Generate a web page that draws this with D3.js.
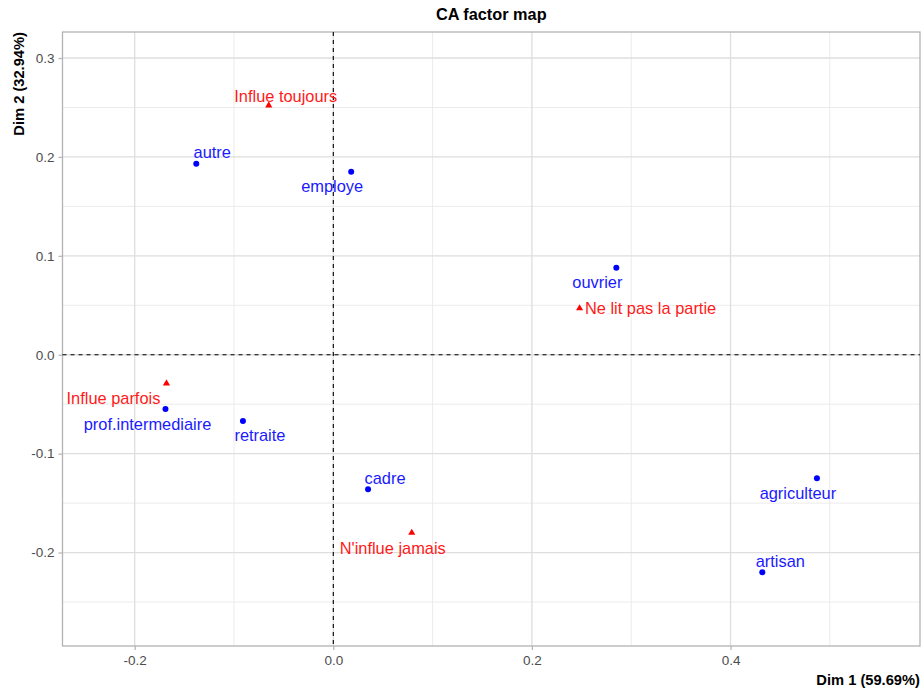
<!DOCTYPE html>
<html>
<head>
<meta charset="utf-8">
<script src="https://cdn.jsdelivr.net/npm/d3@7"></script>
<style>
  body { margin: 0; background: #fff; }
  text { font-family: "Liberation Sans", Arial, sans-serif; }
</style>
</head>
<body>
<svg id="map" width="922" height="690"></svg>
<script>
// row points (blue dots)
const rowNames = ["autre", "employe", "ouvrier", "prof.intermediaire", "retraite", "cadre", "agriculteur", "artisan"];
const rowDim1 = [-0.138, 0.018, 0.285, -0.169, -0.091, 0.035, 0.487, 0.432];
const rowDim2 = [0.193, 0.185, 0.088, -0.055, -0.067, -0.136, -0.125, -0.220];

// column points (red triangles)
const colNames = ["Influe toujours", "Ne lit pas la partie", "Influe parfois", "N'influe jamais"];
const colDim1 = [-0.065, 0.248, -0.168, 0.079];
const colDim2 = [0.252, 0.047, -0.029, -0.180];

const xTicks = [-0.2, 0.0, 0.2, 0.4];
const yTicks = [-0.2, -0.1, 0.0, 0.1, 0.2, 0.3];
const xMinor = [-0.1, 0.1, 0.3, 0.5];
const yMinor = [-0.25, -0.15, -0.05, 0.05, 0.15, 0.25];

// label placement (text centre offset from the point, in px), like ggrepel put them
const labelNudge = {
    "autre": [16, -6], "employe": [-19, 20], "ouvrier": [-19, 20],
    "prof.intermediaire": [-18, 21], "retraite": [17, 20], "cadre": [17, -5],
    "agriculteur": [-19, 21], "artisan": [18, -5],
    "Influe toujours": [17, -3], "Ne lit pas la partie": [71, 6],
    "Influe parfois": [-53, 21], "N'influe jamais": [-19, 21]
};

function drawMap() {
    let svg = d3.select("#map");
    let padding = { top: 32, right: 2, bottom: 44, left: 62.5 };
    let width = +svg.attr("width");
    let height = +svg.attr("height");

    let xScale = d3.scaleLinear()
                    .domain([-0.2727, 0.5908])
                    .range([padding.left, width - padding.right]);
    let yScale = d3.scaleLinear()
                    .domain([-0.2945, 0.3263])
                    .range([height - padding.bottom, padding.top]);

    let grid = svg.append("g");
    grid.selectAll(".vminor").data(xMinor).enter().append("line")
        .attr("x1", d => xScale(d)).attr("x2", d => xScale(d))
        .attr("y1", padding.top).attr("y2", height - padding.bottom)
        .attr("stroke", "#ebebeb").attr("stroke-width", 1);
    grid.selectAll(".hminor").data(yMinor).enter().append("line")
        .attr("y1", d => yScale(d)).attr("y2", d => yScale(d))
        .attr("x1", padding.left).attr("x2", width - padding.right)
        .attr("stroke", "#ebebeb").attr("stroke-width", 1);
    grid.selectAll(".vmajor").data(xTicks).enter().append("line")
        .attr("x1", d => xScale(d)).attr("x2", d => xScale(d))
        .attr("y1", padding.top).attr("y2", height - padding.bottom)
        .attr("stroke", "#dedede").attr("stroke-width", 1.3);
    grid.selectAll(".hmajor").data(yTicks).enter().append("line")
        .attr("y1", d => yScale(d)).attr("y2", d => yScale(d))
        .attr("x1", padding.left).attr("x2", width - padding.right)
        .attr("stroke", "#dedede").attr("stroke-width", 1.3);

    // panel border
    svg.append("rect")
        .attr("x", padding.left).attr("y", padding.top)
        .attr("width", width - padding.left - padding.right)
        .attr("height", height - padding.top - padding.bottom)
        .attr("fill", "none").attr("stroke", "#b3b3b3").attr("stroke-width", 1.3);

    // axes
    let xAxis = d3.axisBottom(xScale).tickValues(xTicks).tickSize(4).tickPadding(5);
    let gx = svg.append("g")
        .attr("transform", "translate(0," + (height - padding.bottom) + ")")
        .call(xAxis);
    let yAxis = d3.axisLeft(yScale).tickValues(yTicks).tickSize(4).tickPadding(4);
    let gy = svg.append("g")
        .attr("transform", "translate(" + padding.left + ",0)")
        .call(yAxis);
    [gx, gy].forEach(g => {
        g.select(".domain").remove();
        g.selectAll(".tick line").attr("stroke", "#b3b3b3").attr("stroke-width", 1.2);
        g.selectAll(".tick text").attr("fill", "#4d4d4d").style("font-size", "13.5px")
            .text(d => d3.format(".1f")(d).replace("−", "-"));
    });

    // origin dashed lines
    svg.append("line")
        .attr("x1", xScale(0)).attr("x2", xScale(0))
        .attr("y1", padding.top).attr("y2", height - padding.bottom)
        .attr("stroke", "#000").attr("stroke-dasharray", "4,4").attr("stroke-width", 1.1);
    svg.append("line")
        .attr("y1", yScale(0)).attr("y2", yScale(0))
        .attr("x1", padding.left).attr("x2", width - padding.right)
        .attr("stroke", "#000").attr("stroke-dasharray", "4,4").attr("stroke-width", 1.1);

    let rows = rowNames.map((n, i) => ({ name: n, x: rowDim1[i], y: rowDim2[i] }));
    let cols = colNames.map((n, i) => ({ name: n, x: colDim1[i], y: colDim2[i] }));

    svg.selectAll(".row").data(rows).enter().append("circle")
        .attr("cx", d => xScale(d.x)).attr("cy", d => yScale(d.y))
        .attr("r", 3).attr("fill", "#0000ff");
    svg.selectAll(".col").data(cols).enter().append("path")
        .attr("d", d3.symbol().type(d3.symbolTriangle).size(22))
        .attr("transform", d => "translate(" + xScale(d.x) + "," + yScale(d.y) + ")")
        .attr("fill", "#ff0000");

    svg.selectAll(".rowlab").data(rows).enter().append("text")
        .attr("x", d => xScale(d.x) + labelNudge[d.name][0])
        .attr("y", d => yScale(d.y) + labelNudge[d.name][1])
        .attr("text-anchor", "middle")
        .style("font-size", "16.4px").attr("fill", "#1a1aff")
        .text(d => d.name);
    svg.selectAll(".collab").data(cols).enter().append("text")
        .attr("x", d => xScale(d.x) + labelNudge[d.name][0])
        .attr("y", d => yScale(d.y) + labelNudge[d.name][1])
        .attr("text-anchor", "middle")
        .style("font-size", "16.4px").attr("fill", "#ff1a1a")
        .text(d => d.name);

    // titles
    svg.append("text")
        .attr("x", (padding.left + width - padding.right) / 2).attr("y", 20)
        .attr("text-anchor", "middle")
        .style("font-size", "16.3px").style("font-weight", "bold")
        .text("CA factor map");
    svg.append("text")
        .attr("x", width - padding.right).attr("y", 685)
        .attr("text-anchor", "end")
        .style("font-size", "14.7px").style("font-weight", "bold")
        .text("Dim 1 (59.69%)");
    svg.append("text")
        .attr("transform", "translate(24," + padding.top + ") rotate(-90)")
        .attr("text-anchor", "end")
        .style("font-size", "14.7px").style("font-weight", "bold")
        .text("Dim 2 (32.94%)");
}

drawMap();
</script>
</body>
</html>
